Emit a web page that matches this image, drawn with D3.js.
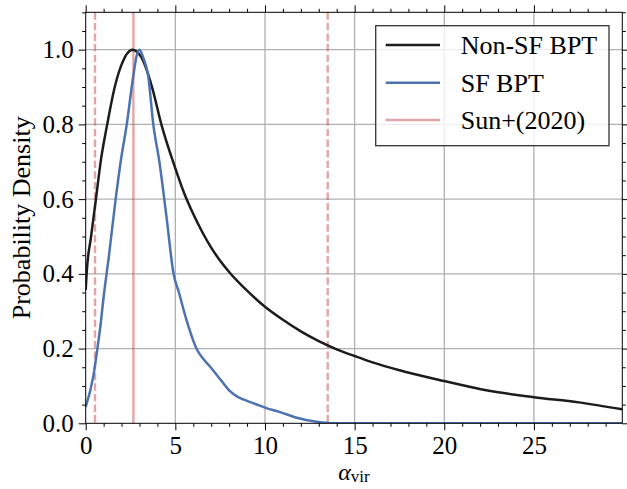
<!DOCTYPE html>
<html>
<head>
<meta charset="utf-8">
<script src="https://cdn.jsdelivr.net/npm/d3@7/dist/d3.min.js"></script>
<style>
  html, body { margin: 0; padding: 0; background: #fff; }
</style>
</head>
<body>
<svg id="chart" width="627" height="489"></svg>
<script>
// ---- data ----
const nonSFx = [0, 0.05, 0.3, 0.57, 0.85, 1.2, 1.62, 2.0, 2.6, 3.1, 3.7, 4.22, 4.98, 5.5, 6.0, 6.5, 7.0, 7.5, 8.0, 9.0, 10.0, 11.0, 12.0, 13.0, 14.0, 15.0, 16.0, 17.5, 20.0, 22.5, 25.0, 27.5, 29.93];
const nonSFy = [0.357, 0.40, 0.50, 0.60, 0.705, 0.80, 0.90, 0.96, 1.0, 0.98, 0.90, 0.80, 0.685, 0.615, 0.56, 0.512, 0.47, 0.435, 0.405, 0.355, 0.312, 0.277, 0.246, 0.22, 0.198, 0.18, 0.163, 0.142, 0.113, 0.087, 0.07, 0.056, 0.0375];
const sfx = [0, 0.42, 0.65, 0.84, 0.98, 1.3, 1.67, 1.95, 2.29, 2.65, 2.85, 3.0, 3.2, 3.49, 3.77, 4.11, 4.5, 4.9, 5.2, 5.6, 6.19, 6.6, 7.0, 7.5, 8.0, 8.5, 9.0, 9.5, 10.0, 10.84, 11.77, 12.88, 13.8, 29.93];
const sfy = [0.044, 0.125, 0.199, 0.268, 0.33, 0.45, 0.60, 0.70, 0.80, 0.928, 0.985, 1.0, 0.98, 0.928, 0.80, 0.70, 0.555, 0.40, 0.35, 0.28, 0.199, 0.17, 0.148, 0.118, 0.088, 0.07, 0.06, 0.051, 0.042, 0.03, 0.015, 0.004, 0.0, 0.0];
const sunSolid = [2.66];
const sunDashed = [0.52, 13.5];
const xTicks = [0, 5, 10, 15, 20, 25];
const yTicks = [0.0, 0.2, 0.4, 0.6, 0.8, 1.0];
const legendLabels = ["Non-SF BPT", "SF BPT", "Sun+(2020)"];
const xDomain = [0, 29.93];
const yDomain = [0, 1.1];

// ---- layout ----
const W = 627, H = 489;
const m = { left: 85.7, right: 4.7, top: 12.3, bottom: 65.7 };
const pw = W - m.left - m.right, ph = H - m.top - m.bottom;
const colBlack = "#1c1c1c", colBlue = "#4C72B0", colPink = "#C44E52";
const FONT = '"Liberation Serif", "Times New Roman", Times, serif';

const svg = d3.select("#chart");
const g = svg.append("g").attr("transform", `translate(${m.left},${m.top})`);
const x = d3.scaleLinear().domain(xDomain).range([0, pw]);
const y = d3.scaleLinear().domain(yDomain).range([ph, 0]);

svg.append("defs").append("clipPath").attr("id", "clip")
  .append("rect").attr("width", pw).attr("height", ph);

// grid
g.append("g").selectAll("line").data(xTicks.filter(d => d > 0)).join("line")
  .attr("x1", d => x(d)).attr("x2", d => x(d)).attr("y1", 0).attr("y2", ph)
  .attr("stroke", "#b0b0b0").attr("stroke-width", 1.3);
g.append("g").selectAll("line").data(yTicks.filter(d => d > 0)).join("line")
  .attr("y1", d => y(d)).attr("y2", d => y(d)).attr("x1", 0).attr("x2", pw)
  .attr("stroke", "#b0b0b0").attr("stroke-width", 1.3);

const plot = g.append("g").attr("clip-path", "url(#clip)");

// Sun+2020 lines
plot.selectAll(".sunS").data(sunSolid).join("line")
  .attr("x1", d => x(d)).attr("x2", d => x(d)).attr("y1", 0).attr("y2", ph)
  .attr("stroke", colPink).attr("stroke-opacity", 0.5).attr("stroke-width", 2.4);
plot.selectAll(".sunD").data(sunDashed).join("line")
  .attr("x1", d => x(d)).attr("x2", d => x(d)).attr("y1", 0).attr("y2", ph)
  .attr("stroke", colPink).attr("stroke-opacity", 0.5).attr("stroke-width", 2.4)
  .attr("stroke-dasharray", "7.4,3.2");

const line = d3.line().x(d => x(d[0])).y(d => y(d[1])).curve(d3.curveMonotoneX);
plot.append("path").datum(nonSFx.map((v, i) => [v, nonSFy[i]]))
  .attr("d", line).attr("fill", "none").attr("stroke", colBlack).attr("stroke-width", 2.5);
plot.append("path").datum(sfx.map((v, i) => [v, sfy[i]]))
  .attr("d", line).attr("fill", "none").attr("stroke", colBlue).attr("stroke-width", 2.5);

// axes
const fs = 25;
function styleAxis(sel) {
  sel.attr("font-family", FONT);
  sel.select(".domain").remove();
  sel.selectAll("line").attr("stroke", "#000").attr("stroke-width", 1);
  sel.selectAll("text").attr("font-size", fs).attr("fill", "#000");
}
const xMinor = d3.range(0, 30, 1).filter(d => d % 5 !== 0);
const yMinor = d3.range(0, 1.1001, 0.05).map(d => +d.toFixed(2)).filter(d => Math.round(d * 100) % 20 !== 0);

const xb = g.append("g").attr("transform", `translate(0,${ph})`)
  .call(d3.axisBottom(x).tickValues(xTicks).tickFormat(d3.format("d")).tickSize(7).tickPadding(6));
styleAxis(xb);
const xbm = g.append("g").attr("transform", `translate(0,${ph})`)
  .call(d3.axisBottom(x).tickValues(xMinor).tickFormat("").tickSize(3.5));
styleAxis(xbm);
const xt = g.append("g").call(d3.axisTop(x).tickValues(xTicks).tickFormat("").tickSize(7));
styleAxis(xt);
const xtm = g.append("g").call(d3.axisTop(x).tickValues(xMinor).tickFormat("").tickSize(3.5));
styleAxis(xtm);

const yl = g.append("g").call(d3.axisLeft(y).tickValues(yTicks).tickFormat(d3.format(".1f")).tickSize(7).tickPadding(5));
styleAxis(yl);
const ylm = g.append("g").call(d3.axisLeft(y).tickValues(yMinor).tickFormat("").tickSize(3.5));
styleAxis(ylm);
const yr = g.append("g").attr("transform", `translate(${pw},0)`)
  .call(d3.axisRight(y).tickValues(yTicks).tickFormat("").tickSize(7));
styleAxis(yr);
const yrm = g.append("g").attr("transform", `translate(${pw},0)`)
  .call(d3.axisRight(y).tickValues(yMinor).tickFormat("").tickSize(3.5));
styleAxis(yrm);

// frame
g.append("rect").attr("width", pw).attr("height", ph).attr("fill", "none")
  .attr("stroke", "#000").attr("stroke-width", 1);

// axis labels
const xlab = svg.append("text").attr("x", m.left + pw / 2).attr("y", 480)
  .attr("text-anchor", "middle").attr("font-size", 24).attr("font-family", FONT);
xlab.append("tspan").attr("font-style", "italic").text("α");
xlab.append("tspan").attr("font-size", 17).attr("dy", 2).text("vir");

svg.append("text").attr("transform", `translate(30,${m.top + ph / 2}) rotate(-90)`)
  .attr("text-anchor", "middle").attr("font-size", 26).attr("font-family", FONT)
  .text("Probability Density");

// legend
const lg = svg.append("g");
lg.append("rect").attr("x", 375.7).attr("y", 25.7).attr("width", 233.3).attr("height", 120)
  .attr("fill", "#fff").attr("fill-opacity", 0.8).attr("stroke", "#333").attr("stroke-width", 1.3);
const legColors = [colBlack, colBlue, colPink];
const legOp = [1, 1, 0.5];
const rowY = [45, 82.7, 120];
legendLabels.forEach((lab, i) => {
  lg.append("line").attr("x1", 385.7).attr("x2", 440).attr("y1", rowY[i]).attr("y2", rowY[i])
    .attr("stroke", legColors[i]).attr("stroke-opacity", legOp[i]).attr("stroke-width", 2.5);
  lg.append("text").attr("x", 460.7).attr("y", rowY[i]).attr("dy", "0.35em")
    .attr("font-size", 26).attr("font-family", FONT).text(lab);
});
</script>
</body>
</html>
